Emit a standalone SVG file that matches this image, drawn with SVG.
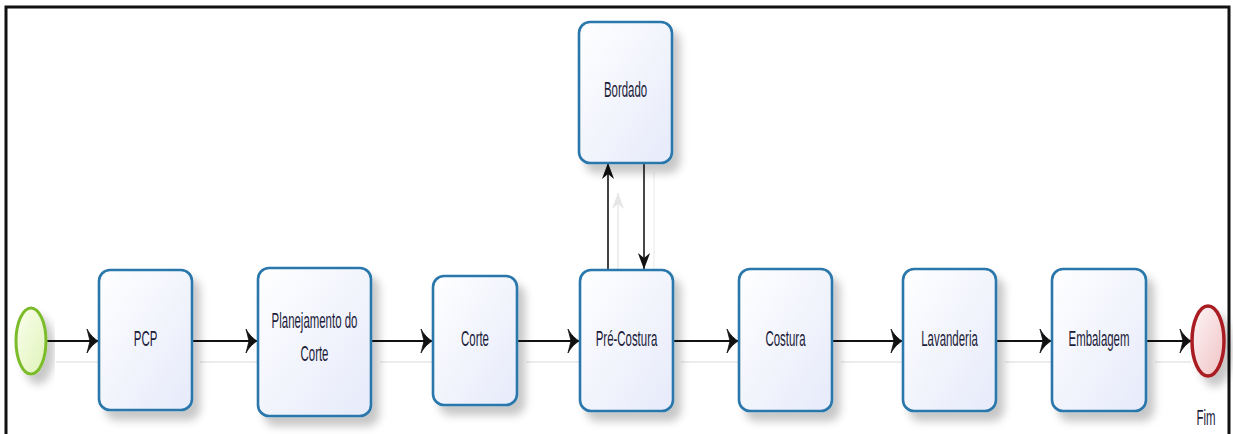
<svg xmlns="http://www.w3.org/2000/svg" width="1233" height="434" viewBox="0 0 1233 434">
  <style>
    .task { stroke: #2a77ab; stroke-width: 2.6; fill: url(#taskFill); filter: url(#shadow); }
    .label { font-family: "Liberation Sans", Arial, sans-serif; font-size: 22px; fill: #1c1c3a; text-anchor: middle; }
    .flow { stroke: #111; stroke-width: 2; fill: none; marker-end: url(#headH); }
    .ghost { stroke: #ececec; stroke-width: 2; fill: none; }
  </style>
  <defs>
    <linearGradient id="taskFill" x1="0" y1="0" x2="1" y2="1">
      <stop offset="0" stop-color="#ffffff"/>
      <stop offset="1" stop-color="#e6eafa"/>
    </linearGradient>
    <linearGradient id="startFill" x1="0" y1="0" x2="1" y2="1">
      <stop offset="0" stop-color="#fbffee"/>
      <stop offset="1" stop-color="#def3b8"/>
    </linearGradient>
    <linearGradient id="endFill" x1="0" y1="0" x2="1" y2="1">
      <stop offset="0" stop-color="#fff6f6"/>
      <stop offset="1" stop-color="#efc2c4"/>
    </linearGradient>
    <filter id="shadow" x="-20%" y="-20%" width="150%" height="150%">
      <feDropShadow dx="7" dy="9" stdDeviation="4" flood-color="#000" flood-opacity="0.22"/>
    </filter>
    <!-- notched arrowhead for horizontal flows (tall and narrow) -->
    <marker id="headH" markerUnits="userSpaceOnUse" markerWidth="16" markerHeight="28" viewBox="-14 -14 16 28" refX="0" refY="0" orient="auto">
      <path d="M0,0 C-3,-2 -8,-6 -11,-12 L-8,0 L-11,12 C-8,6 -3,2 0,0 Z" fill="#111" stroke="#111" stroke-width="0.8" stroke-linejoin="round"/>
    </marker>
    <!-- arrowhead for vertical flows -->
    <marker id="headV" markerUnits="userSpaceOnUse" markerWidth="20" markerHeight="16" viewBox="-18 -8 20 16" refX="0" refY="0" orient="auto">
      <path d="M0,0 C-5,-2 -10,-4 -16,-6 L-11,0 L-16,6 C-10,4 -5,2 0,0 Z" fill="#111"/>
    </marker>
    <marker id="headGhost" markerUnits="userSpaceOnUse" markerWidth="20" markerHeight="16" viewBox="-18 -8 20 16" refX="0" refY="0" orient="auto">
      <path d="M0,0 C-5,-2 -10,-4 -16,-6 L-11,0 L-16,6 C-10,4 -5,2 0,0 Z" fill="#e6e6e6"/>
    </marker>
  </defs>

  <rect width="1233" height="434" fill="#ffffff"/>
  <!-- outer frame -->
  <rect x="6" y="7" width="1223" height="440" fill="none" stroke="#111" stroke-width="3"/>

  <!-- faint connector shadows -->
  <g id="connector-shadows">
    <line class="ghost" x1="56" y1="362" x2="98" y2="362"/>
    <line class="ghost" x1="200" y1="362" x2="257" y2="362"/>
    <line class="ghost" x1="380" y1="362" x2="432" y2="362"/>
    <line class="ghost" x1="526" y1="362" x2="579" y2="362"/>
    <line class="ghost" x1="681" y1="362" x2="738" y2="362"/>
    <line class="ghost" x1="841" y1="362" x2="902" y2="362"/>
    <line class="ghost" x1="1005" y1="362" x2="1051" y2="362"/>
    <line class="ghost" x1="1155" y1="362" x2="1191" y2="362"/>
    <line x1="618" y1="270" x2="618" y2="193" stroke="#e8e8e8" stroke-width="1.5" marker-end="url(#headGhost)"/>
    <line x1="654" y1="172" x2="654" y2="270" stroke="#f0f0f0" stroke-width="1.5"/>
  </g>

  <!-- sequence flows -->
  <g id="connectors">
    <line class="flow" x1="46" y1="341" x2="98" y2="341"/>
    <line class="flow" x1="193" y1="341" x2="257" y2="341"/>
    <line class="flow" x1="372" y1="341" x2="432" y2="341"/>
    <line class="flow" x1="518" y1="341" x2="579" y2="341"/>
    <line class="flow" x1="673" y1="341" x2="738" y2="341"/>
    <line class="flow" x1="833" y1="341" x2="902" y2="341"/>
    <line class="flow" x1="997" y1="341" x2="1051" y2="341"/>
    <line class="flow" x1="1147" y1="341" x2="1191" y2="341"/>
    <line x1="608" y1="270" x2="608" y2="163" stroke="#111" stroke-width="1.6" marker-end="url(#headV)"/>
    <line x1="644" y1="163" x2="644" y2="269" stroke="#333" stroke-width="1.8" marker-end="url(#headV)"/>
  </g>

  <g id="start">
    <ellipse cx="31" cy="341" rx="15" ry="33" fill="url(#startFill)" stroke="#7cbb2c" stroke-width="3" filter="url(#shadow)"/>
  </g>

  <g id="pcp">
    <rect class="task" x="99" y="270" width="93" height="140" rx="11"/>
    <text class="label" transform="translate(145.5,346) scale(0.52,1)">PCP</text>
  </g>

  <g id="planejamento">
    <rect class="task" x="258" y="268" width="113" height="148" rx="11"/>
    <text class="label" transform="translate(314.5,328) scale(0.52,1)">Planejamento do</text>
    <text class="label" transform="translate(314.5,361) scale(0.52,1)">Corte</text>
  </g>

  <g id="corte">
    <rect class="task" x="433" y="276" width="84" height="129" rx="11"/>
    <text class="label" transform="translate(475,346) scale(0.52,1)">Corte</text>
  </g>

  <g id="pre-costura">
    <rect class="task" x="580" y="270" width="93" height="141" rx="11"/>
    <text class="label" transform="translate(626.5,346) scale(0.52,1)">Pré-Costura</text>
  </g>

  <g id="bordado">
    <rect class="task" x="579" y="22" width="93" height="141" rx="11"/>
    <text class="label" transform="translate(625.5,97) scale(0.52,1)">Bordado</text>
  </g>

  <g id="costura">
    <rect class="task" x="739" y="269" width="93" height="142" rx="11"/>
    <text class="label" transform="translate(785.5,346) scale(0.52,1)">Costura</text>
  </g>

  <g id="lavanderia">
    <rect class="task" x="903" y="269" width="93" height="142" rx="11"/>
    <text class="label" transform="translate(949.5,346) scale(0.52,1)">Lavanderia</text>
  </g>

  <g id="embalagem">
    <rect class="task" x="1052" y="269" width="94" height="142" rx="11"/>
    <text class="label" transform="translate(1099,346) scale(0.52,1)">Embalagem</text>
  </g>

  <g id="fim">
    <ellipse cx="1208" cy="341" rx="16" ry="35" fill="url(#endFill)" stroke="#a81e22" stroke-width="3.5" filter="url(#shadow)"/>
    <text class="label" transform="translate(1206,425) scale(0.52,1)">Fim</text>
  </g>
</svg>
